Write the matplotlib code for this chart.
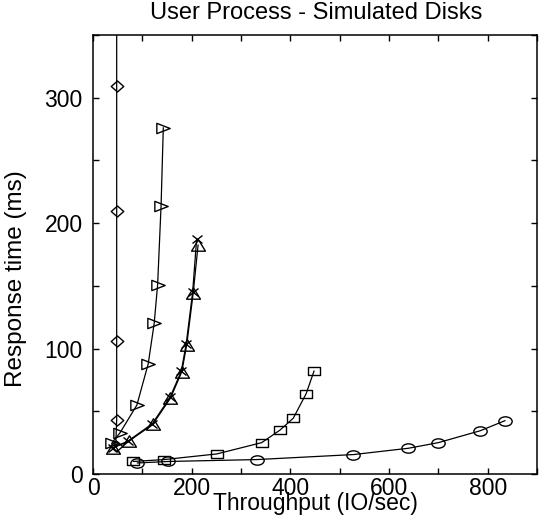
import numpy as np
import matplotlib
matplotlib.use("Agg")
import matplotlib.pyplot as plt
from matplotlib.path import Path
from matplotlib.transforms import Affine2D
from matplotlib.ticker import MultipleLocator, FixedLocator

plt.rcParams['font.family'] = ['Liberation Sans', 'DejaVu Sans']

# ---- data (throughput IO/sec, response time ms) ----
diamond_x = [46, 48, 48, 48, 48, 48]
diamond_y = [22, 43, 106, 210, 309, 420]

rtri_x = [38, 55, 89, 112, 124, 131, 138, 142.5]
rtri_y = [24.5, 33, 55, 88, 120, 151, 214, 276]

utri_x = [41, 72, 121, 157, 180, 190, 203, 213]
utri_y = [21, 26, 39.5, 60.5, 81.5, 103, 144, 182.5]

cross_x = [40, 70, 120, 156, 179, 189, 202, 210]
cross_y = [21, 26, 40, 61, 82, 104, 145, 187]

square_x = [82, 144, 251, 342, 379, 406, 432, 448]
square_y = [10, 11.5, 16, 25, 35, 44.5, 64, 82]

circle_x = [90, 153, 332, 528, 639, 700, 785, 835]
circle_y = [8.8, 10, 11.5, 15.5, 20.5, 25, 34.5, 42.5]

x_major = [0, 200, 400, 600, 800]
y_major = [0, 100, 200, 300]

# ---- custom (horizontally stretched) markers ----
ellipse = Affine2D().scale(1, 0.7).transform_path(Path.unit_circle())
square = Path([(-1, -0.74), (1, -0.74), (1, 0.74), (-1, 0.74), (-1, -0.74)], closed=True)
diamond = Path([(1, 0), (0, 0.88), (-1, 0), (0, -0.88), (1, 0)], closed=True)
rtri = Path([(-1, -0.77), (1, 0), (-1, 0.77), (-1, -0.77)], closed=True)
utri = Path([(-1, -0.82), (1, -0.82), (0, 0.82), (-1, -0.82)], closed=True)
cross = Path([(-1, -0.8), (1, 0.8), (-1, 0.8), (1, -0.8)],
             [Path.MOVETO, Path.LINETO, Path.MOVETO, Path.LINETO])

fig = plt.figure(figsize=(5.48, 5.17), dpi=100)
W, H = 548, 517
L, R, T, B = 93, 537, 35, 474
ax = fig.add_axes([L / W, 1 - B / H, (R - L) / W, (B - T) / H])

common = dict(color='black', lw=0.9, mfc='none', mec='black', mew=1.0)
ax.plot(diamond_x, diamond_y, marker=diamond, ms=9, **common)
ax.plot(rtri_x, rtri_y, marker=rtri, ms=9.6, **common)
ax.plot(utri_x, utri_y, marker=utri, ms=10, **common)
ax.plot(cross_x, cross_y, marker=cross, ms=7.2, **common)
ax.plot(square_x, square_y, marker=square, ms=8.3, **common)
ax.plot(circle_x, circle_y, marker=ellipse, ms=9.6, **common)

ax.set_xlim(0, 900)
ax.set_ylim(0, 350)
ax.xaxis.set_major_locator(FixedLocator(x_major))
ax.xaxis.set_minor_locator(MultipleLocator(100))
ax.yaxis.set_major_locator(FixedLocator(y_major))
ax.yaxis.set_minor_locator(MultipleLocator(50))
ax.tick_params(which='both', direction='in', top=True, right=True,
               length=4.5, width=1.0, labelsize=16.5)
ax.tick_params(axis='x', pad=2.5)
ax.tick_params(axis='y', pad=7.5)
for s in ax.spines.values():
    s.set_linewidth(1.1)

ax.set_xlabel('Throughput (IO/sec)', fontsize=16.5)
ax.xaxis.set_label_coords(0.5, -0.042)
ax.set_ylabel('Response time (ms)', fontsize=17.5, va='center')
ax.yaxis.set_label_coords(-0.173, 0.445)
fig.text(316 / W, 1 - 13 / H, 'User Process - Simulated Disks', fontsize=17,
         ha='center', va='center')

fig.savefig('out.png', dpi=100)
